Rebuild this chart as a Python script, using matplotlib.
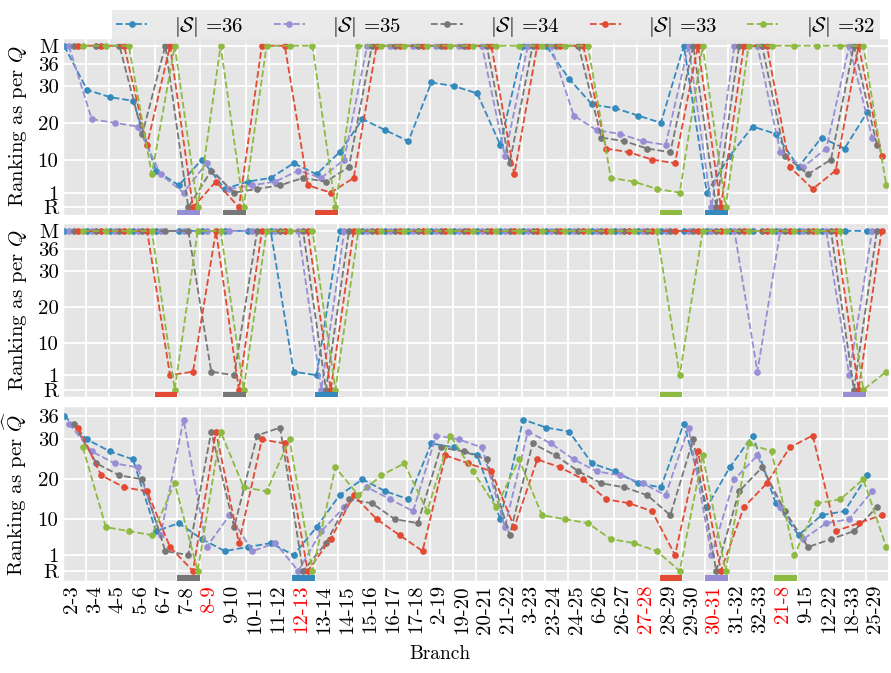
import numpy as np
import matplotlib
matplotlib.use('Agg')
import matplotlib.pyplot as plt

plt.style.use('ggplot')
plt.rcParams['font.family'] = ['cmr10', 'DejaVu Serif']
plt.rcParams['mathtext.fontset'] = 'cm'
plt.rcParams['axes.unicode_minus'] = False

M = 41   # branch missing from the ranking
R = -3   # the real faulted branch

branches = ['2-3', '3-4', '4-5', '5-6', '6-7', '7-8', '8-9', '9-10', '10-11',
            '11-12', '12-13', '13-14', '14-15', '15-16', '16-17', '17-18',
            '2-19', '19-20', '20-21', '21-22', '3-23', '23-24', '24-25',
            '6-26', '26-27', '27-28', '28-29', '29-30', '30-31', '31-32',
            '32-33', '21-8', '9-15', '12-22', '18-33', '25-29']
red_branches = ['8-9', '12-13', '27-28', '30-31', '21-8']

sizes = [36, 35, 34, 33, 32]
colors = ['#348ABD', '#988ED5', '#777777', '#E24A33', '#8EBA42']

# ranking as per Q
q_36 = [M, 29, 27, 26, 7, 3, 10, 2, 4, 5, 9, 6, 12, 21, 18, 15, 31, 30, 28, 14,
        M, M, 32, 25, 24, 22, 20, M, 1, 11, 19, 17, 8, 16, 13, 23]
q_35 = [M, 21, 20, 19, 6, 1, 9, 2, 3, 4, 7, 5, 10, M, M, M, M, M, M, 11,
        M, M, 22, 18, 17, 15, 14, M, R, M, M, 12, 8, 13, M, 16]
q_34 = [M, M, M, 17, M, R, 7, 1, 2, 3, 5, 4, 8, M, M, M, M, M, M, 9,
        M, M, M, 16, 15, 13, 12, M, R, M, M, 11, 6, 10, M, 14]
q_33 = [M, M, M, 14, M, R, 4, R, M, M, 3, 1, 5, M, M, M, M, M, M, 6,
        M, M, M, 13, 12, 10, 9, M, R, M, M, 8, 2, 7, M, 11]
q_32 = [M, M, M, 6, M, R, M, R, M, M, M, R, M, M, M, M, M, M, M, M,
        M, M, M, 5, 4, 2, 1, M, R, M, M, M, M, M, M, 3]

# ranking as per Q (second case)
q2_36 = [M, M, M, M, M, M, M, M, M, M, 2, 1, M, M, M, M, M, M, M, M,
         M, M, M, M, M, M, M, M, M, M, M, M, M, M, M, M]
q2_35 = [M, M, M, M, M, M, M, M, M, M, M, R, M, M, M, M, M, M, M, M,
         M, M, M, M, M, M, M, M, M, M, 2, M, M, M, 1, M]
q2_34 = [M, M, M, M, M, M, 2, 1, M, M, M, R, M, M, M, M, M, M, M, M,
         M, M, M, M, M, M, M, M, M, M, M, M, M, M, R, M]
q2_33 = [M, M, M, M, 1, 2, M, R, M, M, M, R, M, M, M, M, M, M, M, M,
         M, M, M, M, M, M, M, M, M, M, M, M, M, M, R, M]
q2_32 = [M, M, M, M, R, M, M, R, M, M, M, R, M, M, M, M, M, M, M, M,
         M, M, M, M, M, M, 1, M, M, M, M, M, M, M, R, 2]

# ranking as per Q hat
qh_36 = [36, 30, 27, 25, 7, 9, 5, 2, 3, 4, 1, 8, 16, 20, 17, 15, 29, 28, 26, 10,
         35, 33, 32, 24, 22, 19, 18, 34, 13, 23, 31, 14, 6, 11, 12, 21]
qh_35 = [34, 27, 24, 23, 6, 35, 3, 11, 2, 4, R, 7, 13, 18, 15, 12, 31, 30, 28, 8,
         32, 29, 25, 22, 21, 19, 16, 33, 1, 20, 26, 13, 5, 9, 10, 17]
qh_34 = [34, 24, 21, 20, 2, 1, 32, 8, 31, 33, R, 4, 15, 14, 10, 9, 28, 27, 25, 6,
         29, 26, 22, 19, 18, 16, 11, 30, R, 17, 23, 12, 3, 5, 7, 13]
qh_33 = [33, 21, 18, 17, 3, R, 32, 4, 30, 29, R, 5, 16, 10, 6, 2, 26, 24, 22, 8,
         25, 23, 20, 15, 14, 12, 1, 27, R, 13, 19, 28, 31, 7, 9, 11]
qh_32 = [28, 8, 7, 6, 19, R, 32, 18, 17, 30, R, 23, 16, 21, 24, 12, 31, 22, 13, 25,
         11, 10, 9, 5, 4, 2, R, 26, R, 29, 27, 1, 14, 15, 20, 3]

# branch index of the marker bar drawn under each series
bars_q = [28, 5, 7, 11, 26]
bars_q2 = [11, 34, 7, 4, 26]
bars_qh = [10, 28, 5, 26, 31]

panels = [
    ([q_36, q_35, q_34, q_33, q_32], bars_q, r'Ranking as per $Q$', True),
    ([q2_36, q2_35, q2_34, q2_33, q2_32], bars_q2, r'Ranking as per $Q$', True),
    ([qh_36, qh_35, qh_34, qh_33, qh_32], bars_qh, r'Ranking as per $\widehat{Q}$', False),
]
rects = [
    [0.0704, 0.6805, 0.9274, 0.263],
    [0.0704, 0.4097, 0.9274, 0.2585],
    [0.0704, 0.1371, 0.9274, 0.2596],
]

FS = 15
n = len(branches)
idx = np.arange(n)

fig = plt.figure(figsize=(8.91, 6.73), dpi=100)
handles = []
for p, (series, bars, ylabel, with_m) in enumerate(panels):
    ax = fig.add_axes(rects[p])
    if with_m:
        ylo, yhi = -5.1, 43.1
    else:
        ylo, yhi = -5.45, 38.4
    for k, vals in enumerate(series):
        h, = ax.plot(idx + 0.06 + 0.205 * k, vals, '--o', color=colors[k],
                     lw=1.3, ms=3.8, label=r'$|\mathcal{S}|$ =%d' % sizes[k])
        if p == 0:
            handles.append(h)
    ax.bar(bars, [1.35] * len(bars), bottom=ylo, width=1, align='edge',
           color=colors, zorder=3)

    ax.set_xlim(0, n)
    ax.set_ylim(ylo, yhi)
    yt = [R, 1, 10, 20, 30, 36]
    yl = ['R', '1', '10', '20', '30', '36']
    if with_m:
        yt.append(M)
        yl.append('M')
    ax.set_yticks(yt)
    ax.set_yticklabels(yl, fontsize=FS, color='black')
    ax.set_xticks(idx + 0.4)
    ax.set_xticks(np.arange(n + 1), minor=True)
    ax.grid(False, axis='x', which='major')
    ax.grid(True, axis='x', which='minor', color='white', lw=1.3)
    ax.grid(True, axis='y', which='major', color='white', lw=1.3)
    ax.tick_params(which='both', length=0, pad=3)
    ax.set_ylabel(ylabel, fontsize=FS, color='black')
    ax.yaxis.set_label_coords(-0.041, 0.5)
    if p == 2:
        ax.set_xticklabels(branches, rotation=90, fontsize=FS)
        for t in ax.get_xticklabels():
            t.set_color('red' if t.get_text() in red_branches else 'black')
        ax.set_xlabel('Branch', fontsize=FS - 1, color='black')
        ax.xaxis.set_label_coords(0.494, 0.042, transform=fig.transFigure)
    else:
        ax.set_xticklabels([])

fig.legend(handles=handles, loc='upper right', bbox_to_anchor=(0.998, 1.0),
           ncol=5, fontsize=FS, numpoints=1, handlelength=1.5,
           handletextpad=1.3, columnspacing=1.45, borderpad=0.2,
           frameon=True, facecolor='#E5E5E5', edgecolor='#E5E5E5',
           fancybox=False)

fig.savefig('out.png', dpi=100)
